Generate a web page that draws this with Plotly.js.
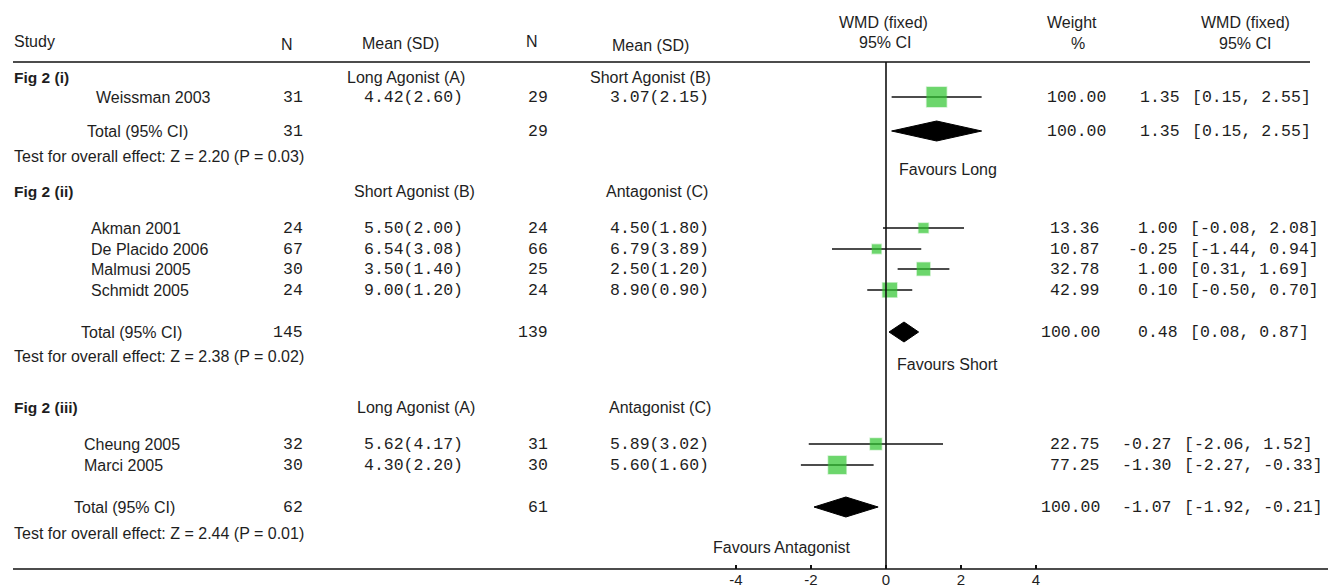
<!DOCTYPE html>
<html>
<head>
<meta charset="utf-8">
<script src="https://cdn.plot.ly/plotly-3.0.1.min.js"></script>
<style>
  html, body { margin: 0; padding: 0; background: #ffffff; }
  #chart { width: 1328px; height: 588px; }
</style>
</head>
<body>
<div id="chart"></div>
<script>
// ---------------- DATA ----------------
const sectionTitles = ['Fig 2 (i)', 'Fig 2 (ii)', 'Fig 2 (iii)'];
const groupA = ['Long Agonist (A)', 'Short Agonist (B)', 'Long Agonist (A)'];
const groupB = ['Short Agonist (B)', 'Antagonist (C)', 'Antagonist (C)'];
const favours = ['Favours Long', 'Favours Short', 'Favours Antagonist'];

const studies = ['Weissman 2003', 'Akman 2001', 'De Placido 2006', 'Malmusi 2005', 'Schmidt 2005', 'Cheung 2005', 'Marci 2005'];
const studySection = [0, 1, 1, 1, 1, 2, 2];
const nA = [31, 24, 67, 30, 24, 32, 30];
const meanA = [4.42, 5.50, 6.54, 3.50, 9.00, 5.62, 4.30];
const sdA = [2.60, 2.00, 3.08, 1.40, 1.20, 4.17, 2.20];
const nB = [29, 24, 66, 25, 24, 31, 30];
const meanB = [3.07, 4.50, 6.79, 2.50, 8.90, 5.89, 5.60];
const sdB = [2.15, 1.80, 3.89, 1.20, 0.90, 3.02, 1.60];
const weight = [100.00, 13.36, 10.87, 32.78, 42.99, 22.75, 77.25];
const wmd = [1.35, 1.00, -0.25, 1.00, 0.10, -0.27, -1.30];
const ciLo = [0.15, -0.08, -1.44, 0.31, -0.50, -2.06, -2.27];
const ciHi = [2.55, 2.08, 0.94, 1.69, 0.70, 1.52, -0.33];

const totalNA = [31, 145, 62];
const totalNB = [29, 139, 61];
const totalWeight = [100.00, 100.00, 100.00];
const totalWMD = [1.35, 0.48, -1.07];
const totalLo = [0.15, 0.08, -1.92];
const totalHi = [2.55, 0.87, -0.21];
const zValues = [2.20, 2.38, 2.44];
const pValues = [0.03, 0.02, 0.01];

const axisTicks = [-4, -2, 0, 2, 4];

// ---------------- LAYOUT (positions, pixels) ----------------
const W = 1328, H = 588, PLOT_BOTTOM = 569;
const X0PX = 886, PXU = 37.5;           // pixel of zero, pixels per unit
const sec = [
  { head: 77, rows: [97], total: 131, test: 156, nameX: 95, totX: 86, gA: 406, gB: 650, fav: [898, 169], er: 1181, wr: 1107 },
  { head: 191, rows: [228, 249, 269, 290], total: 332, test: 356, nameX: 90, totX: 80, gA: 414, gB: 657, fav: [896, 364], er: 1179, wr: 1101 },
  { head: 407, rows: [444, 465], total: 507, test: 533, nameX: 83, totX: 73, gA: 416, gB: 660, fav: [712, 547], er: 1173, wr: 1101 }
];
const SANS = 'Liberation Sans, Arial, sans-serif';
const MONO = 'Liberation Mono, Courier New, monospace';
const TXT = '#1e1e1e';
const GREEN = '#2fc62f';

const f2 = v => v.toFixed(2);
const fSans = (s, bold) => ({ family: SANS, size: s || 16, color: TXT, weight: bold ? 'bold' : 'normal' });
const fMono = s => ({ family: MONO, size: s || 16.5, color: TXT });

const annotations = [];
function ann(text, xpx, y, anchor, font) {
  annotations.push({ text: text, xref: 'paper', x: xpx / W, yref: 'y', y: y,
    xanchor: anchor, yanchor: 'middle', showarrow: false, font: font, borderpad: 0 });
}

// header
ann('Study', 13, 41, 'left', fSans());
ann('N', 287, 44, 'center', fSans());
ann('Mean (SD)', 400, 43, 'center', fSans());
ann('N', 532, 41, 'center', fSans());
ann('Mean (SD)', 650, 45, 'center', fSans());
ann('WMD (fixed)', 884, 22, 'center', fSans());
ann('95% CI', 885, 42, 'center', fSans());
ann('Weight', 1072, 22, 'center', fSans());
ann('%', 1078, 43, 'center', fSans());
ann('WMD (fixed)', 1245, 22, 'center', fSans());
ann('95% CI', 1245, 43, 'center', fSans());

// row y per study
const rowY = [];
const counter = [0, 0, 0];
studies.forEach((s, i) => {
  const k = studySection[i];
  rowY.push(sec[k].rows[counter[k]++]);
});

// sections
sectionTitles.forEach((t, k) => {
  const L = sec[k];
  ann(t, 13, L.head, 'left', fSans(15.5, true));
  ann(groupA[k], L.gA, L.head, 'center', fSans());
  ann(groupB[k], L.gB, L.head, 'center', fSans());
  ann('Total (95% CI)', L.totX, L.total, 'left', fSans());
  ann(String(totalNA[k]), 304, L.total, 'right', fMono());
  ann(String(totalNB[k]), 549, L.total, 'right', fMono());
  ann(f2(totalWeight[k]), L.wr, L.total, 'right', fMono());
  ann(f2(totalWMD[k]), L.er, L.total, 'right', fMono());
  ann('[' + f2(totalLo[k]) + ', ' + f2(totalHi[k]) + ']', L.er + 10, L.total, 'left', fMono());
  ann('Test for overall effect: Z = ' + f2(zValues[k]) + ' (P = ' + f2(pValues[k]) + ')', 13, L.test, 'left', fSans());
  ann(favours[k], L.fav[0], L.fav[1], 'left', fSans());
});

// studies
studies.forEach((s, i) => {
  const L = sec[studySection[i]];
  const y = rowY[i];
  ann(s, L.nameX, y, 'left', fSans());
  ann(String(nA[i]), 304, y, 'right', fMono());
  ann(f2(meanA[i]) + '(' + f2(sdA[i]) + ')', 413, y, 'center', fMono());
  ann(String(nB[i]), 549, y, 'right', fMono());
  ann(f2(meanB[i]) + '(' + f2(sdB[i]) + ')', 659, y, 'center', fMono());
  ann(f2(weight[i]), L.wr, y, 'right', fMono());
  ann(f2(wmd[i]), L.er, y, 'right', fMono());
  ann('[' + f2(ciLo[i]) + ', ' + f2(ciHi[i]) + ']', L.er + 10, y, 'left', fMono());
});

// ---------------- TRACES ----------------
const lx = [], ly = [];
studies.forEach((s, i) => { lx.push(ciLo[i], ciHi[i], null); ly.push(rowY[i], rowY[i], null); });
const traces = [];
traces.push({ type: 'scatter', mode: 'lines', x: lx, y: ly, line: { color: '#111', width: 1.4 }, hoverinfo: 'skip', showlegend: false });
traces.push({ type: 'scatter', mode: 'markers', x: wmd, y: rowY,
  marker: { symbol: 'square', color: GREEN, size: weight.map(w => 4 + 1.6 * Math.sqrt(w)),
    line: { color: 'rgba(60,200,60,0.35)', width: 1.5 } },
  hoverinfo: 'skip', showlegend: false });
const DH = 10;
sectionTitles.forEach((t, k) => {
  const y = sec[k].total;
  traces.push({ type: 'scatter', mode: 'lines', fill: 'toself',
    x: [totalLo[k], totalWMD[k], totalHi[k], totalWMD[k], totalLo[k]],
    y: [y, y - DH, y, y + DH, y],
    fillcolor: '#000', line: { color: '#000', width: 1 }, hoverinfo: 'skip', showlegend: false });
});

const layout = {
  width: W, height: H,
  margin: { l: 0, r: 0, t: 0, b: H - PLOT_BOTTOM },
  paper_bgcolor: '#fff', plot_bgcolor: '#fff',
  showlegend: false,
  xaxis: { range: [-X0PX / PXU, (W - X0PX) / PXU], tickvals: axisTicks, ticktext: axisTicks.map(String),
    ticks: 'inside', ticklen: 4, tickwidth: 1.2, tickcolor: '#111', ticklabelstandoff: 0,
    showgrid: false, zeroline: false, showline: false,
    tickfont: { family: SANS, size: 15, color: TXT }, fixedrange: true },
  yaxis: { range: [PLOT_BOTTOM, 0], visible: false, showgrid: false, zeroline: false, fixedrange: true },
  shapes: [
    { type: 'line', xref: 'paper', yref: 'y', x0: 13 / W, x1: 1310 / W, y0: 62, y1: 62, line: { color: '#111', width: 1.6 } },
    { type: 'line', xref: 'paper', yref: 'paper', x0: 13 / W, x1: 1, y0: 0, y1: 0, line: { color: '#111', width: 1.6 } },
    { type: 'line', xref: 'x', yref: 'y', x0: 0, x1: 0, y0: 62, y1: PLOT_BOTTOM, line: { color: '#111', width: 1.6 } }
  ],
  annotations: annotations
};

Plotly.newPlot('chart', traces, layout, { displayModeBar: false, staticPlot: true });
</script>
</body>
</html>
